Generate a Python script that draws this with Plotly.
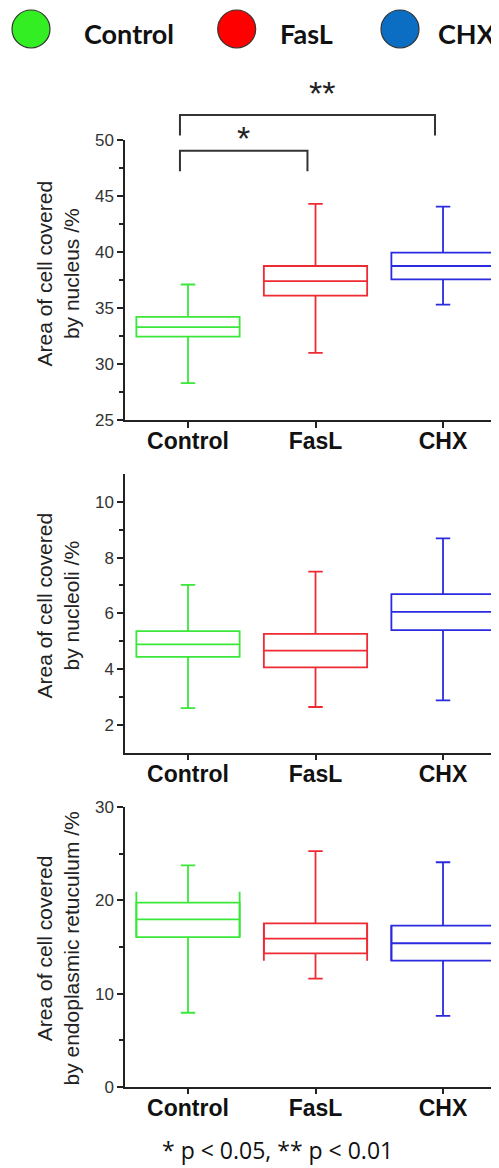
import plotly.graph_objects as go

# page is 499x1168, the html body adds an 8px margin
OFF = 8
W, H = 499 - OFF, 1168 - OFF

# ---------------- data ----------------
categories = ["Control", "FasL", "CHX"]
line_colors = ["#3ae83a", "#ee2a32", "#2a2ae0"]
legend_colors = ["#33ee22", "#ff0000", "#0b6ec2"]

nucleus_low = [28.3, 31.0, 35.3]
nucleus_q1 = [32.45, 36.1, 37.55]
nucleus_med = [33.3, 37.4, 38.75]
nucleus_q3 = [34.2, 38.75, 39.95]
nucleus_high = [37.1, 44.3, 44.05]

nucleoli_low = [2.6, 2.64, 2.88]
nucleoli_q1 = [4.44, 4.06, 5.4]
nucleoli_med = [4.89, 4.66, 6.05]
nucleoli_q3 = [5.36, 5.26, 6.69]
nucleoli_high = [7.02, 7.5, 8.69]

er_low = [7.94, 11.6, 7.6]
er_q1 = [16.07, 14.32, 13.53]
er_med = [17.97, 15.9, 15.4]
er_q3 = [19.76, 17.54, 17.3]
er_high = [23.77, 25.3, 24.1]
er_side_top = [20.94, 17.54, 17.3]
er_side_bottom = [16.07, 13.53, 13.53]

y_titles = ["Area of cell covered<br>by nucleus /%",
            "Area of cell covered<br>by nucleoli /%",
            "Area of cell covered<br>by endoplasmic retuculum /%"]
y_ranges = [[25, 50], [1, 11], [0, 30]]
y_major = [[25, 30, 35, 40, 45, 50], [2, 4, 6, 8, 10], [0, 10, 20, 30]]
y_minor = [[27.5, 32.5, 37.5, 42.5, 47.5], [3, 5, 7, 9], [5, 15, 25]]

# significance brackets on panel 1
sig_pairs = [(0, 1), (0, 2)]
sig_top = [49.04, 52.23]
sig_bottom = [47.2, 50.4]
sig_labels = ["*", "**"]
footnote = "* p < 0.05, ** p < 0.01"

# ---------------- layout geometry (page pixels) ----------------
def px_x(p):
    return (p - OFF) / W

def px_y(p):
    return 1 - (p - OFF) / H

x_range = [-0.494, 2.439]
x_dom = [px_x(125), 1.0]
panel_px = [(140, 420), (474, 752.7), (807.3, 1086.7)]
title_cy = [274, 606, 949]
box_w = 0.81

fig = go.Figure()

panels = [
    (nucleus_low, nucleus_q1, nucleus_med, nucleus_q3, nucleus_high),
    (nucleoli_low, nucleoli_q1, nucleoli_med, nucleoli_q3, nucleoli_high),
    (er_low, er_q1, er_med, er_q3, er_high),
]

axis_col = "#222222"
for pi, (lo, q1, md, q3, hi) in enumerate(panels):
    xa = "x" if pi == 0 else f"x{pi+1}"
    ya = "y" if pi == 0 else f"y{pi+1}"
    for ci, cat in enumerate(categories):
        fig.add_trace(go.Box(
            x=[ci], q1=[q1[ci]], median=[md[ci]], q3=[q3[ci]],
            lowerfence=[lo[ci]], upperfence=[hi[ci]],
            width=box_w, whiskerwidth=0.14,
            line=dict(color=line_colors[ci], width=1.8),
            fillcolor="rgba(0,0,0,0)", boxpoints=False,
            name=cat, showlegend=False, xaxis=xa, yaxis=ya,
            hoverinfo="skip"))
    if pi == 2:
        for ci, cat in enumerate(categories):
            xs, ys = [], []
            for side in (-1, 1):
                xs += [ci + side * box_w / 2, ci + side * box_w / 2, None]
                ys += [er_side_bottom[ci], er_side_top[ci], None]
            fig.add_trace(go.Scatter(
                x=xs, y=ys, mode="lines",
                line=dict(color=line_colors[ci], width=1.8),
                showlegend=False, xaxis=xa, yaxis=ya, hoverinfo="skip"))

    top, bot = panel_px[pi]
    key = "" if pi == 0 else str(pi + 1)
    fig.layout["xaxis" + key] = dict(
        domain=x_dom, range=x_range, anchor=ya,
        tickmode="array", tickvals=list(range(len(categories))),
        ticktext=[f"<b>{c}</b>" for c in categories],
        ticks="outside", ticklen=6, tickwidth=1.5, tickcolor=axis_col,
        ticklabelstandoff=-6,
        showline=True, linecolor=axis_col, linewidth=1.5,
        showgrid=False, zeroline=False,
        tickfont=dict(family="Liberation Sans", size=23, color="#111111"),
        automargin=False)
    fig.layout["yaxis" + key] = dict(
        domain=[px_y(bot), px_y(top)], range=y_ranges[pi], anchor=xa,
        tickmode="array", tickvals=y_major[pi],
        ticks="outside", ticklen=6, tickwidth=1.5, tickcolor=axis_col,
        minor=dict(tickmode="array", tickvals=y_minor[pi], ticks="outside",
                   ticklen=4, tickwidth=1.5, tickcolor=axis_col),
        showline=True, linecolor=axis_col, linewidth=1.5,
        showgrid=False, zeroline=False,
        tickfont=dict(family="Liberation Sans", size=17, color="#333333"),
        automargin=False)
    fig.add_annotation(
        text=y_titles[pi], xref="paper", yref="paper",
        x=px_x(57.5), y=px_y(title_cy[pi]), xanchor="center", yanchor="middle",
        textangle=-90, showarrow=False,
        font=dict(family="Liberation Sans", size=21, color="#222222"))

# significance brackets
def ydom(v, rng):
    return (v - rng[0]) / (rng[1] - rng[0])

br_off = -0.063
star_cy = [133, 88]      # page-pixel centre of the star glyphs
star_dx = [0.0, 0.11]
for (a, b), t, bt, lab, k in zip(sig_pairs, sig_top, sig_bottom, sig_labels, range(2)):
    x0, x1 = a + br_off, b + br_off
    yt, yb = ydom(t, y_ranges[0]), ydom(bt, y_ranges[0])
    fig.add_shape(type="path", xref="x", yref="y domain",
                  path=f"M {x0},{yb} L {x0},{yt} L {x1},{yt} L {x1},{yb}",
                  line=dict(color="#333333", width=2))
    xm = (x0 + x1) / 2 + star_dx[k]
    fig.add_annotation(text=lab, xref="x", yref="paper", x=xm,
                       y=px_y(star_cy[k] + 5),
                       xanchor="center", yanchor="middle", showarrow=False,
                       font=dict(family="Liberation Sans", size=34, color="#222222"))

# top legend
leg_cx = [31, 236.7, 400]
leg_tc = [129.2, 306, 467]
leg_cy = 29
r = 19
for cat, col, cx, tc in zip(categories, legend_colors, leg_cx, leg_tc):
    fig.add_shape(type="circle", xref="paper", yref="paper",
                  x0=px_x(cx - r), x1=px_x(cx + r), y0=px_y(leg_cy + r), y1=px_y(leg_cy - r),
                  fillcolor=col, line=dict(color="#333333", width=1.2))
    fig.add_annotation(text=f"<b>{cat}</b>", xref="paper", yref="paper",
                       x=px_x(tc), y=px_y(33), xanchor="center", yanchor="middle",
                       showarrow=False,
                       font=dict(family="Lato", size=27, color="#111111"))

fig.add_annotation(text=footnote, xref="paper", yref="paper",
                   x=px_x(277), y=0, xanchor="center", yanchor="bottom",
                   showarrow=False,
                   font=dict(family="Open Sans", size=23, color="#111111"))

fig.update_layout(width=W, height=H, margin=dict(l=0, r=0, t=0, b=0),
                  paper_bgcolor="white", plot_bgcolor="white",
                  boxmode="overlay", showlegend=False)

fig.write_html("out.html")
